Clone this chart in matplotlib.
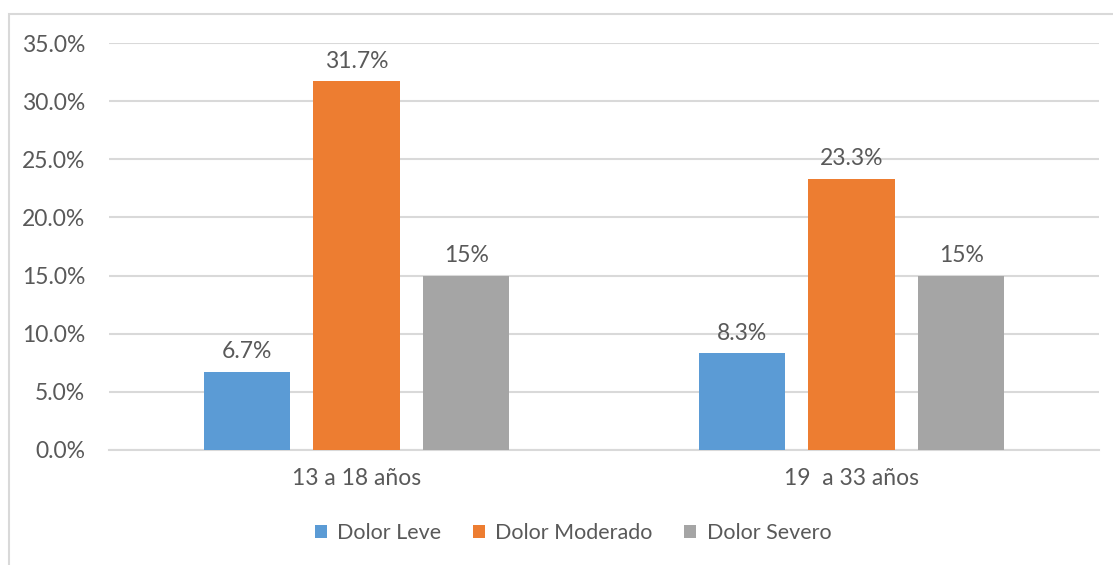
import matplotlib
matplotlib.use("Agg")
import matplotlib.pyplot as plt
from matplotlib.patches import Rectangle
import numpy as np

categories = ["13 a 18 años", "19  a 33 años"]
series_names = ["Dolor Leve", "Dolor Moderado", "Dolor Severo"]
leve = [6.7, 8.3]
moderado = [31.7, 23.3]
severo = [15.0, 15.0]
labels_leve = ["6.7%", "8.3%"]
labels_moderado = ["31.7%", "23.3%"]
labels_severo = ["15%", "15%"]
yticks = [0, 5, 10, 15, 20, 25, 30, 35]
ytick_labels = ["0.0%", "5.0%", "10.0%", "15.0%", "20.0%", "25.0%", "30.0%", "35.0%"]

colors = ["#5B9BD5", "#ED7D31", "#A5A5A5"]
text_color = "#595959"
grid_color = "#D9D9D9"

plt.rcParams['font.family'] = ['Lato', 'DejaVu Sans']

W, H = 1113, 565
fig = plt.figure(figsize=(W / 100, H / 100), dpi=100)
fig.patch.set_facecolor("white")

# chart border
fig.add_artist(Rectangle((9 / W, -0.1), 1.2, 1 - 14 / H + 0.1, transform=fig.transFigure,
                         fill=False, edgecolor=grid_color, linewidth=1.5))

ax = fig.add_axes([109 / W, 1 - 450 / H, (1099 - 109) / W, (450 - 43) / H])
x = np.arange(len(categories))
step = 0.222
width = 0.174
series = [leve, moderado, severo]
lab = [labels_leve, labels_moderado, labels_severo]
for i, (vals, name, c, l) in enumerate(zip(series, series_names, colors, lab)):
    bars = ax.bar(x + (i - 1) * step, vals, width, color=c, label=name, zorder=3)
    ax.bar_label(bars, labels=l, padding=7, fontsize=16.5, color=text_color)

ax.set_xlim(-0.5, 1.5)
ax.set_ylim(0, 35)
ax.set_yticks(yticks)
ax.set_yticklabels(ytick_labels)
ax.set_xticks(x)
ax.set_xticklabels(categories)
ax.tick_params(axis='y', length=0, labelsize=16.5, labelcolor=text_color, pad=17)
ax.tick_params(axis='x', length=0, labelsize=16.5, labelcolor=text_color, pad=13)
ax.grid(axis='y', color=grid_color, linewidth=1.5, zorder=0)
for s in ["top", "right", "left"]:
    ax.spines[s].set_visible(False)
ax.spines["bottom"].set_color(grid_color)
ax.spines["bottom"].set_linewidth(1.5)

fig.legend(loc='center', bbox_to_anchor=(573 / W, 1 - 533 / H), ncol=3, frameon=False,
           fontsize=15.5, labelcolor=text_color, handlelength=0.55, handleheight=0.55,
           handletextpad=0.5, columnspacing=1.45)

fig.savefig("out.png", dpi=100)
